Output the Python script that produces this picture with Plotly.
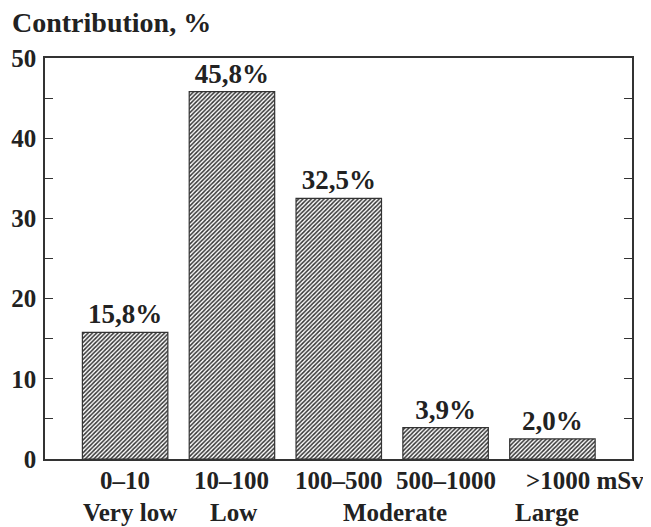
import plotly.graph_objects as go

# Data ========================================================================
bar_pos = [0, 1, 2, 3, 4]
bar_values = [15.8, 45.8, 32.5, 3.9, 2.5]          # heights as drawn
bar_labels = ["15,8%", "45,8%", "32,5%", "3,9%", "2,0%"]

dose_labels = ["0–10", "10–100", "100–500", "500–1000", ">1000 mSv"]
dose_label_x = [0, 1, 2, 3, 3.73]
dose_label_anchor = ["center", "center", "center", "center", "left"]

level_labels = ["Very low", "Low", "Moderate", "Large"]
level_label_x = [0.05, 1.01, 2.53, 3.95]

y_tickvals = [0, 5, 10, 15, 20, 25, 30, 35, 40, 45, 50]
y_ticktext = ["0", "", "10", "", "20", "", "30", "", "40", "", "50"]

# Settings ====================================================================
font_family = "Liberation Serif"
ink = "#222222"
line_col = "#333333"
off = 8   # page body margin shifts the figure by this many px

fig = go.Figure()

fig.add_trace(go.Bar(
    x=bar_pos, y=bar_values,
    width=0.8,
    text=bar_labels,
    texttemplate="<b>%{text}</b>",
    textposition="outside",
    cliponaxis=False,
    textfont=dict(family=font_family, size=27, color=ink),
    marker=dict(
        color="white",
        line=dict(color=line_col, width=1.2),
        pattern=dict(shape="/", size=3, solidity=0.5,
                     fgcolor="#333333", bgcolor="white", fillmode="replace"),
    ),
    showlegend=False,
    hoverinfo="skip",
))

plot_top, plot_bottom = 58 - off, 459 - off
fig.update_layout(
    width=651, height=527,
    margin=dict(l=45 - off, r=651 - (632 - off), t=plot_top, b=527 - plot_bottom),
    plot_bgcolor="white", paper_bgcolor="white",
    font=dict(family=font_family, color=ink, size=20),
    title=dict(
        text="<b>Contribution, %</b>",
        x=(12 - off) / 651, xanchor="left", xref="container",
        y=1 - (22 - off) / 527, yanchor="middle", yref="container",
        font=dict(family=font_family, size=28, color=ink),
    ),
    uniformtext=dict(minsize=10, mode="show"),
)

fig.update_xaxes(
    range=[-0.75, 4.745], automargin=False,
    showline=True, linecolor=line_col, linewidth=1.5, mirror=True,
    ticks="", showticklabels=False, showgrid=False, zeroline=False,
)

fig.update_yaxes(
    range=[0, 50], automargin=False,
    showline=True, linecolor=line_col, linewidth=1.5, mirror="allticks",
    ticks="inside", ticklen=8, tickcolor=line_col, tickwidth=1.2,
    tickvals=y_tickvals, ticktext=["<b>%s</b>" % t if t else "" for t in y_ticktext],
    tickfont=dict(family=font_family, size=25, color=ink),
    ticklabelstandoff=2,
    showgrid=False, zeroline=False,
)

# Category labels below the axis (y given in screen pixels, converted to paper)
def px_to_paper(py):
    return (plot_bottom - (py - off)) / (plot_bottom - plot_top)

for x, t, a in zip(dose_label_x, dose_labels, dose_label_anchor):
    fig.add_annotation(
        x=x, xref="x", y=px_to_paper(480), yref="paper",
        text="<b>%s</b>" % t,
        showarrow=False, xanchor=a, yanchor="middle",
        font=dict(family=font_family, size=25, color=ink),
    )
for x, t in zip(level_label_x, level_labels):
    fig.add_annotation(
        x=x, xref="x", y=px_to_paper(512), yref="paper",
        text="<b>%s</b>" % t,
        showarrow=False, xanchor="center", yanchor="middle",
        font=dict(family=font_family, size=25, color=ink),
    )

fig.write_html("out.html")
